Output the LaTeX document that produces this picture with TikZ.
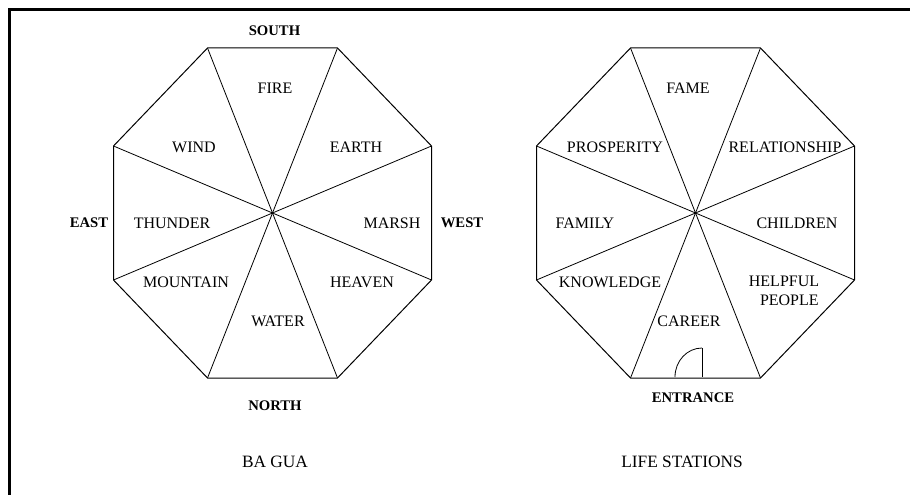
\documentclass[tikz,border=0pt]{standalone}
\usepackage{fontspec}
\setmainfont{Liberation Serif}
\usetikzlibrary{calc}

\tikzset{
  sector/.style={font=\fontsize{12}{12.5}\selectfont},
  compass/.style={font=\fontsize{11}{12}\selectfont\bfseries},
  caption/.style={font=\fontsize{13}{14}\selectfont},
  rim/.style={line width=0.75pt},
  spoke/.style={line width=0.6pt}
}

\begin{document}
\begin{tikzpicture}[x=0.75pt,y=-0.75pt]

\useasboundingbox (0,0) rectangle (910,495);

% Frame
\draw[line width=2.2pt] (9.5,495) -- (9.5,9.5) -- (910,9.5);

% Octagons with spokes
\foreach \oct/\cx in {bagua/272.5, life/695.5}
{
\foreach \i/\dx/\dy in {1/-65/-165, 2/65/-165, 3/159/-67, 4/159/67,
                        5/65/165, 6/-65/165, 7/-159/67, 8/-159/-67}
{
\coordinate (\oct\i) at ({\cx+(\dx)},{213+(\dy)});
}
\draw[rim] (\oct1) -- (\oct2) -- (\oct3) -- (\oct4) -- (\oct5)
  -- (\oct6) -- (\oct7) -- (\oct8) -- cycle;
\draw[spoke] (\oct1) -- (\oct5);
\draw[spoke] (\oct2) -- (\oct6);
\draw[spoke] (\oct3) -- (\oct7);
\draw[spoke] (\oct4) -- (\oct8);
}

% Ba gua directions
\node[compass] (south) at (274.5,31) {SOUTH};
\node[compass] (north) at (275,406) {NORTH};
\node[compass] (east) at (89,223) {EAST};
\node[compass] (west) at (462,223) {WEST};

% Ba gua elements
\node[sector] (fire) at (275,88) {FIRE};
\node[sector] (wind) at (194,147) {WIND};
\node[sector] (earth) at (356,147) {EARTH};
\node[sector] (thunder) at (172,223) {THUNDER};
\node[sector] (marsh) at (392,223) {MARSH};
\node[sector] (mountain) at (186,282) {MOUNTAIN};
\node[sector] (heaven) at (362,282) {HEAVEN};
\node[sector] (water) at (278,321) {WATER};

% Life stations
\node[sector] (fame) at (688,88) {FAME};
\node[sector] (prosperity) at (615,147) {PROSPERITY};
\node[sector] (relationship) at (785,147) {RELATIONSHIP};
\node[sector] (family) at (585,223) {FAMILY};
\node[sector] (children) at (797,223) {CHILDREN};
\node[sector] (knowledge) at (610,282) {KNOWLEDGE};
\node[sector,align=center] (helpful) at (784,291) {HELPFUL\\[1.5pt]\hspace*{8pt}PEOPLE};
\node[sector] (career) at (689,321) {CAREER};

% Entrance door
\coordinate (hinge) at (702,377);
\draw[spoke] (hinge) -- ++(0,-29);
\draw[spoke] ($(hinge)+(-27,0)$) arc[start angle=180, end angle=270, x radius=27, y radius=29];
\node[compass] (entrance) at (693,398) {ENTRANCE};

% Captions
\node[caption] (bagua title) at (275,462) {BA GUA};
\node[caption] (life title) at (682,462) {LIFE STATIONS};

\end{tikzpicture}
\end{document}
